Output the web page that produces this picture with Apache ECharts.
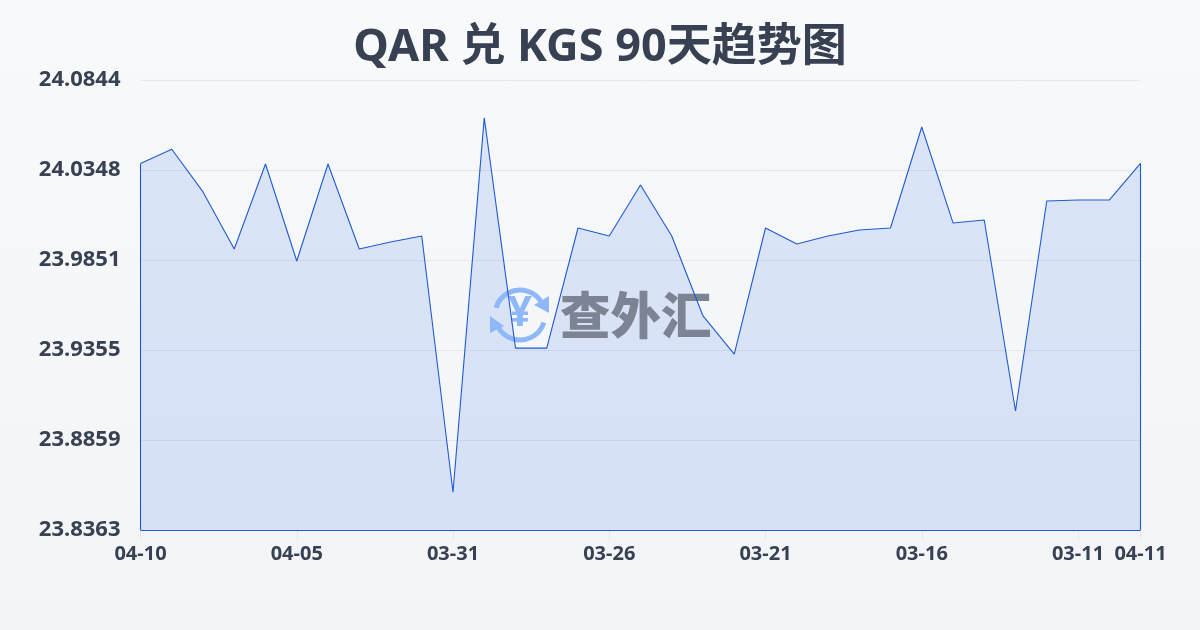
<!DOCTYPE html>
<html><head><meta charset="utf-8">
<style>html,body{margin:0;padding:0;width:1200px;height:630px;overflow:hidden;background:linear-gradient(180deg,#f8f9fb,#f2f4f7)}#c{width:1200px;height:630px}</style>
<script src="https://cdn.jsdelivr.net/npm/echarts@6/dist/echarts.min.js"></script>
</head><body><div id="c"></div>
<script>
const titleText = 'QAR 兑 KGS 90天趋势图';
const categories = ['04-10','04-09','04-08','04-07','04-06','04-05','04-04','04-03','04-02','04-01','03-31','03-30','03-29','03-28','03-27','03-26','03-25','03-24','03-23','03-22','03-21','03-20','03-19','03-18','03-17','03-16','03-15','03-14','03-13','03-12','03-11','03-10','04-11'];
const rates = [24.0384,24.0462,24.0227,23.9912,24.0381,23.9846,24.0381,23.9912,23.9951,23.9984,23.8571,24.0635,23.9366,23.9366,24.0028,23.9984,24.0265,23.9984,23.9543,23.9333,24.0028,23.9940,23.9984,24.0017,24.0028,24.0585,24.0056,24.0072,23.9019,24.0177,24.0182,24.0182,24.0384];
const yMin = 23.8363, yMax = 24.0844, ySplits = 5;
const yTickLabels = ['23.8363','23.8859','23.9355','23.9851','24.0348','24.0844'];
const labelEvery = 5;

const ink = '#374151', blue = '#1f5bd0', F = '"Noto Sans","Noto Sans CJK SC",sans-serif';
const last = categories.length - 1;
const showIdx = i => i % labelEvery === 0 || i === last;
const chart = echarts.init(document.getElementById('c'), null, {renderer:'canvas'});
const wm = '#8fb8f8';
chart.setOption({
  animation:false, backgroundColor:'transparent',
  title:{text:titleText,left:'center',top:21,textStyle:{fontFamily:F,fontSize:45,fontWeight:'bold',color:ink}},
  grid:{left:140.5,right:59.5,top:80,bottom:100},
  xAxis:{type:'category',boundaryGap:false,data:categories,
    axisLine:{show:false},
    axisTick:{show:true,length:10,interval:(i)=>showIdx(i),lineStyle:{color:'#e5e7eb'}},
    axisLabel:{interval:(i)=>showIdx(i),hideOverlap:false,margin:14,fontFamily:F,fontSize:20,fontWeight:'bold',color:ink},
    splitLine:{show:false}},
  yAxis:{type:'value',min:yMin,max:yMax,interval:(yMax-yMin)/ySplits,
    axisLine:{show:false},axisTick:{show:false},
    axisLabel:{margin:20,fontFamily:F,fontSize:22,fontWeight:'bold',color:ink,
      formatter:(v)=>yTickLabels[Math.round((v-yMin)/(yMax-yMin)*ySplits)]},
    splitLine:{lineStyle:{color:'#e5e7eb',width:1}}},
  series:[
    {type:'line',data:rates,symbol:'none',z:1,lineStyle:{width:0,opacity:0},
     areaStyle:{color:'rgba(37,99,235,0.19)',origin:'start'}},
    {type:'line',data:rates,symbol:'none',z:5,
     lineStyle:{color:blue,width:1.1},
     markLine:{silent:true,symbol:'none',label:{show:false},lineStyle:{color:blue,width:1.1,type:'solid'},animation:false,
      data:[
        [{coord:[categories[0],rates[0]]},{coord:[categories[0],yMin]}],
        [{coord:[categories[last],rates[last]]},{coord:[categories[last],yMin]}],
        [{coord:[categories[0],yMin]},{coord:[categories[last],yMin]}]
      ]}}
  ],
  graphic:[
    {type:'group',z:3,silent:true,children:[
      {type:'arc',z:3,shape:{cx:520,cy:315,r:25,startAngle:-2.85,endAngle:-0.45},style:{stroke:wm,lineWidth:5,fill:null}},
      {type:'arc',z:3,shape:{cx:520,cy:315,r:25,startAngle:0.3,endAngle:2.7},style:{stroke:wm,lineWidth:5,fill:null}},
      {type:'polygon',z:3,shape:{points:[[549,296],[549,313],[534,305]]},style:{fill:wm}},
      {type:'polygon',z:3,shape:{points:[[490,316],[490,333],[504,326]]},style:{fill:wm}},
      {type:'text',z:3,style:{x:520,y:314,text:'¥',align:'center',verticalAlign:'middle',font:'bold 42px "Noto Sans"',fill:wm}},
      {type:'text',z:3,style:{x:560,y:315,text:'查外汇',align:'left',verticalAlign:'middle',font:'900 50.5px "Noto Sans CJK SC"',fill:'#7c8494'}}
    ]}
  ]
});
</script></body></html>
